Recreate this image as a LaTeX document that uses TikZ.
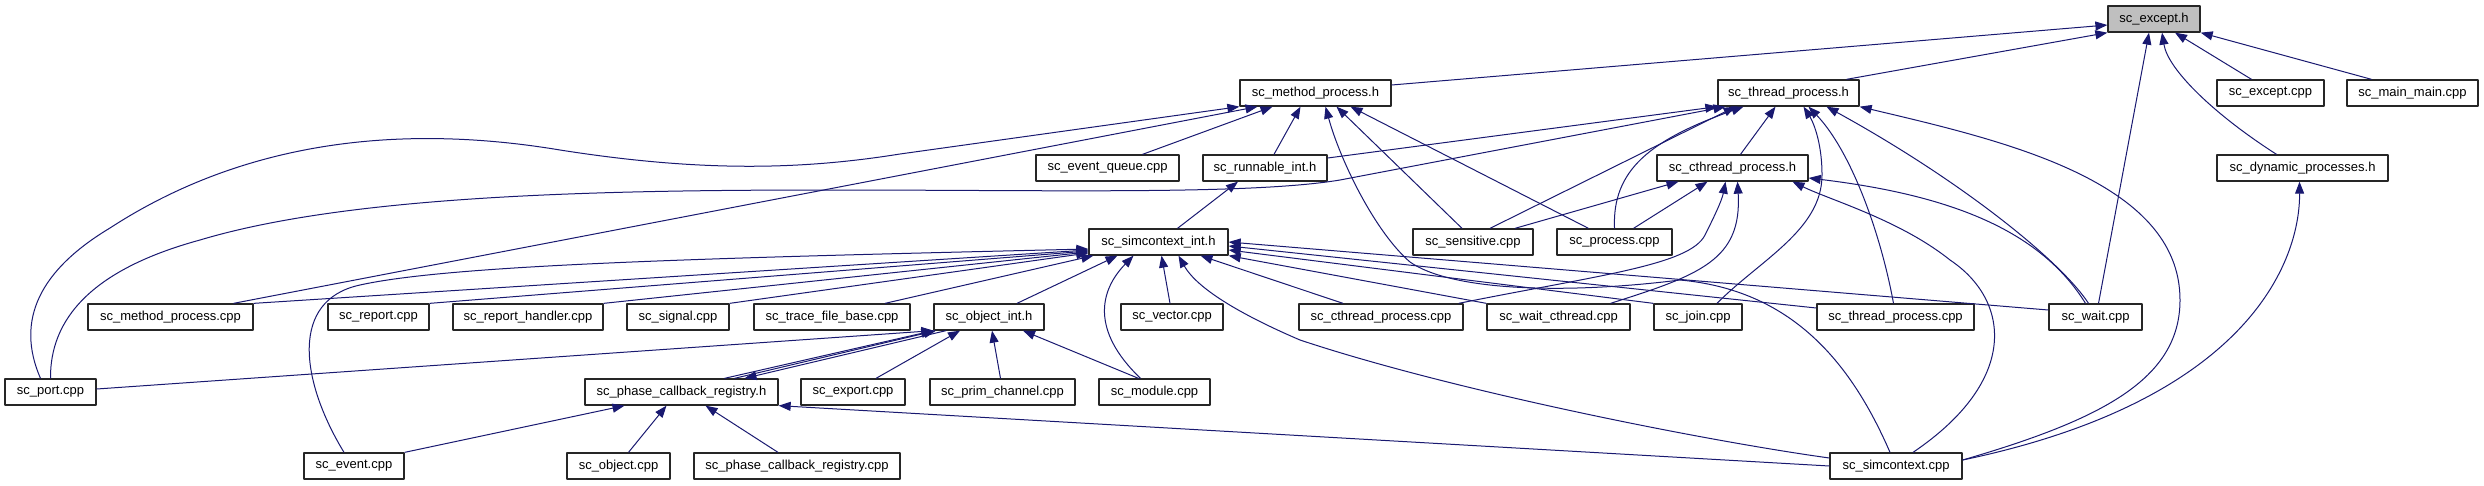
\documentclass[tikz,border=0pt]{standalone}
\usepackage{fontspec}
\setmainfont{Liberation Sans}
\usetikzlibrary{arrows.meta}
\definecolor{edgeblue}{HTML}{191970}
\definecolor{headgray}{HTML}{BFBFBF}

\begin{document}
\begin{tikzpicture}[
    x=1pt, y=-1pt,
    line join=round,
    % 文件框
    box/.style={draw=black!85, line width=1.3pt, fill=white, rectangle,
        minimum height=26pt, inner sep=0pt, font=\fontsize{13}{15}\selectfont},
    % 包含关系（箭头指向被包含的文件）
    incl/.style={draw=edgeblue, line width=1pt, -{Triangle[length=12pt,width=9pt]}},
]

\useasboundingbox (0,0) rectangle (2484,485);

% ---- 第 0 层 ----
\node[box, fill=headgray, minimum width=92pt] (exceptH) at (2154,19) {sc\_except.h};

% ---- 第 1 层 ----
\node[box, minimum width=151pt] (methodH)   at (1315.5,93) {sc\_method\_process.h};
\node[box, minimum width=141pt] (threadH)   at (1788.5,93) {sc\_thread\_process.h};
\node[box, minimum width=107pt] (exceptCpp) at (2270.5,93) {sc\_except.cpp};
\node[box, minimum width=131pt] (mainCpp)   at (2412.5,93) {sc\_main\_main.cpp};

% ---- 第 2 层 ----
\node[box, minimum width=143pt] (queueCpp)  at (1107.5,168) {sc\_event\_queue.cpp};
\node[box, minimum width=124pt] (runnableH) at (1265,168)   {sc\_runnable\_int.h};
\node[box, minimum width=151pt] (cthreadH)  at (1732.5,168) {sc\_cthread\_process.h};
\node[box, minimum width=171pt] (dynamicH)  at (2302.5,168) {sc\_dynamic\_processes.h};

% ---- 第 3 层 ----
\node[box, minimum width=139pt] (simintH)    at (1158.5,242) {sc\_simcontext\_int.h};
\node[box, minimum width=120pt] (sensCpp)    at (1473,242)   {sc\_sensitive.cpp};
\node[box, minimum width=115pt] (processCpp) at (1614.5,242) {sc\_process.cpp};

% ---- 第 4 层 ----
\node[box, minimum width=165pt] (methodCpp)  at (170.5,317)  {sc\_method\_process.cpp};
\node[box, minimum width=101pt] (reportCpp)  at (378.5,317)  {sc\_report.cpp};
\node[box, minimum width=150pt] (handlerCpp) at (528,317)    {sc\_report\_handler.cpp};
\node[box, minimum width=102pt] (signalCpp)  at (678,317)    {sc\_signal.cpp};
\node[box, minimum width=156pt] (traceCpp)   at (832,317)    {sc\_trace\_file\_base.cpp};
\node[box, minimum width=110pt] (objintH)    at (989,317)    {sc\_object\_int.h};
\node[box, minimum width=102pt] (vectorCpp)  at (1172,317)   {sc\_vector.cpp};
\node[box, minimum width=164pt] (cthreadCpp) at (1381,317)   {sc\_cthread\_process.cpp};
\node[box, minimum width=143pt] (waitcCpp)   at (1558.5,317) {sc\_wait\_cthread.cpp};
\node[box, minimum width=88pt]  (joinCpp)    at (1698,317)   {sc\_join.cpp};
\node[box, minimum width=157pt] (threadCpp)  at (1895.5,317) {sc\_thread\_process.cpp};
\node[box, minimum width=93pt]  (waitCpp)    at (2095.5,317) {sc\_wait.cpp};

% ---- 第 5 层 ----
\node[box, minimum width=91pt]  (portCpp)   at (50.5,392)   {sc\_port.cpp};
\node[box, minimum width=193pt] (phaseH)    at (681.5,392)  {sc\_phase\_callback\_registry.h};
\node[box, minimum width=104pt] (exportCpp) at (853,392)    {sc\_export.cpp};
\node[box, minimum width=145pt] (primCpp)   at (1002.5,392) {sc\_prim\_channel.cpp};
\node[box, minimum width=111pt] (moduleCpp) at (1154.5,392) {sc\_module.cpp};

% ---- 第 6 层 ----
\node[box, minimum width=100pt] (eventCpp)  at (354,466)  {sc\_event.cpp};
\node[box, minimum width=103pt] (objectCpp) at (618.5,466) {sc\_object.cpp};
\node[box, minimum width=206pt] (phaseCpp)  at (797,466)  {sc\_phase\_callback\_registry.cpp};
\node[box, minimum width=132pt] (simCpp)    at (1896,466) {sc\_simcontext.cpp};

% ---- 指向 sc_except.h ----
\draw[incl] ([yshift=8]methodH.east) -- ([yshift=-6]exceptH.west);
\draw[incl] ([xshift=58]threadH.north) -- (exceptH.south west);
\draw[incl] ([xshift=-19]exceptCpp.north) -- ([xshift=21]exceptH.south);
\draw[incl] ([xshift=-41]mainCpp.north) -- (exceptH.south east);
\draw[incl] ([xshift=-26]dynamicH.north) .. controls (2215,115) and (2168,70) .. ([xshift=8]exceptH.south);
\draw[incl] ([xshift=3]waitCpp.north) -- ([xshift=-5]exceptH.south);

% ---- 指向 sc_method_process.h ----
\draw[incl] ([xshift=-10]portCpp.north) .. controls (15,320) and (40,270) .. (110,228)
    .. controls (230,150) and (380,120) .. (560,150)
    .. controls (700,172) and (800,170) .. (900,154) -- (methodH.south west);
\draw[incl] ([xshift=63]methodCpp.north) -- ([xshift=-58]methodH.south);
\draw[incl] ([xshift=35]queueCpp.north) -- ([xshift=-43]methodH.south);
\draw[incl] ([xshift=9]runnableH.north) -- ([xshift=-15]methodH.south);
\draw[incl] ([xshift=-6]simCpp.north) .. controls (1850,360) and (1790,290) .. (1680,280)
    .. controls (1560,295) and (1450,290) .. (1410,262)
    .. controls (1375,232) and (1340,160) .. ([xshift=10]methodH.south);
\draw[incl] ([xshift=-11]sensCpp.north) -- ([xshift=21]methodH.south);
\draw[incl] ([xshift=-26]processCpp.north) -- ([xshift=35]methodH.south);

% ---- 指向 sc_thread_process.h ----
\draw[incl] ([yshift=10]runnableH.east) -- (threadH.south west);
\draw[incl] (portCpp.north) .. controls (50,320) and (90,270) .. (200,240)
    .. controls (350,195) and (600,190) .. (830,190)
    .. controls (1050,190) and (1250,195) .. (1340,180) -- ([xshift=-63]threadH.south);
\draw[incl] ([xshift=17]sensCpp.north) -- ([xshift=-53]threadH.south);
\draw[incl] (processCpp.north) .. controls (1612,170) and (1650,140) .. ([xshift=-45]threadH.south);
\draw[incl] ([xshift=8]cthreadH.north) -- ([xshift=-13]threadH.south);
\draw[incl] ([xshift=19]joinCpp.north) .. controls (1760,260) and (1822,230) .. (1822,175)
    .. controls (1822,140) and (1812,120) .. ([xshift=15]threadH.south);
\draw[incl] ([xshift=-2]threadCpp.north) .. controls (1880,230) and (1850,150) .. ([xshift=20]threadH.south);
\draw[incl] ([xshift=-7]waitCpp.north) .. controls (2060,260) and (1960,180) .. ([xshift=38]threadH.south);
\draw[incl] ([yshift=6]simCpp.east) .. controls (2100,420) and (2180,380) .. (2180,300)
    .. controls (2180,180) and (2000,140) .. (threadH.south east);

% ---- 指向 sc_cthread_process.h ----
\draw[incl] ([xshift=42]sensCpp.north) -- ([xshift=-54]cthreadH.south);
\draw[incl] ([xshift=19]processCpp.north) -- ([xshift=-25]cthreadH.south);
\draw[incl] ([xshift=-5]cthreadCpp.north east) .. controls (1600,275) and (1690,265) .. (1705,235)
    .. controls (1715,215) and (1722,200) .. ([xshift=-7]cthreadH.south);
\draw[incl] ([xshift=52]waitcCpp.north) .. controls (1700,275) and (1742,260) .. ([xshift=5]cthreadH.south);
\draw[incl] ([xshift=17]simCpp.north) .. controls (2020,380) and (2010,300) .. (1950,260)
    .. controls (1900,220) and (1830,200) .. ([xshift=60]cthreadH.south);
\draw[incl] ([xshift=-10]waitCpp.north) .. controls (2040,230) and (1950,195) .. ([yshift=-10]cthreadH.east);

% ---- 指向 sc_runnable_int.h ----
\draw[incl] ([xshift=19]simintH.north) -- ([xshift=-27]runnableH.south);

% ---- 指向 sc_simcontext_int.h ----
\draw[incl] ([xshift=-10]eventCpp.north) .. controls (300,380) and (290,300) .. (360,285)
    .. controls (450,265) and (700,258) .. ([yshift=-7]simintH.west);
\draw[incl] (methodCpp.north east) -- ([yshift=-8]simintH.west);
\draw[incl] (reportCpp.north east) -- ([yshift=-9]simintH.west);
\draw[incl] (handlerCpp.north east) -- ([yshift=-10]simintH.west);
\draw[incl] (signalCpp.north east) -- ([yshift=-11]simintH.west);
\draw[incl] ([xshift=53]traceCpp.north) -- ([xshift=5]simintH.south west);
\draw[incl] ([xshift=28]objintH.north) -- ([xshift=-41]simintH.south);
\draw[incl] ([xshift=-14]moduleCpp.north) .. controls (1090,330) and (1100,290) .. ([xshift=-25]simintH.south);
\draw[incl] ([xshift=-2]vectorCpp.north) -- ([xshift=3]simintH.south);
\draw[incl] ([yshift=8]simCpp.west) .. controls (1700,440) and (1450,390) .. (1300,340)
    .. controls (1230,310) and (1195,285) .. ([xshift=20]simintH.south);
\draw[incl] ([xshift=-38]cthreadCpp.north) -- ([xshift=42]simintH.south);
\draw[incl] (waitcCpp.north west) -- (simintH.south east);
\draw[incl] (joinCpp.north west) -- ([yshift=-8]simintH.east);
\draw[incl] ([yshift=9]threadCpp.west) -- ([yshift=-4]simintH.east);
\draw[incl] ([yshift=7]waitCpp.west) -- (simintH.east);

% ---- 指向 sc_object_int.h ----
\draw[incl] ([yshift=3]portCpp.east) -- (objintH.south west);
\draw[incl] ([xshift=43]phaseH.north) -- (objintH.south west);
\draw[incl] ([xshift=53]phaseH.north) -- ([xshift=-53]objintH.south);
\draw[incl] ([xshift=-43]objintH.south) -- ([xshift=63]phaseH.north);
\draw[incl] ([xshift=23]exportCpp.north) -- ([xshift=-29]objintH.south);
\draw[incl] ([xshift=-2]primCpp.north) -- ([xshift=3]objintH.south);
\draw[incl] ([xshift=-16]moduleCpp.north) -- ([xshift=34]objintH.south);

% ---- 指向 sc_phase_callback_registry.h ----
\draw[incl] (eventCpp.north east) -- ([xshift=-57]phaseH.south);
\draw[incl] ([xshift=10]objectCpp.north) -- ([xshift=-15]phaseH.south);
\draw[incl] ([xshift=-19]phaseCpp.north) -- ([xshift=24]phaseH.south);
\draw[incl] (simCpp.west) -- (phaseH.south east);

% ---- 指向 sc_dynamic_processes.h ----
\draw[incl] ([yshift=6]simCpp.east) .. controls (2250,400) and (2300,260) .. ([xshift=-3]dynamicH.south);

\end{tikzpicture}
\end{document}
